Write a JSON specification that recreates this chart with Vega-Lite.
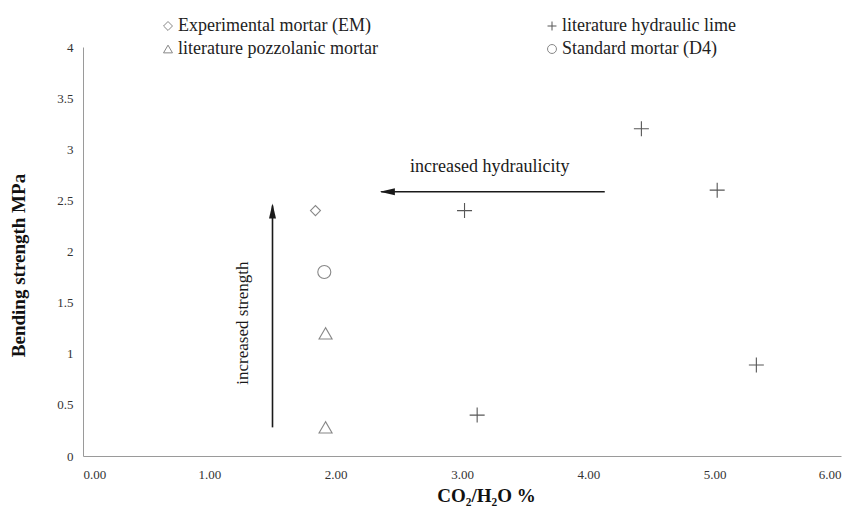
{
  "$schema": "https://vega.github.io/schema/vega-lite/v6.json",
  "width": 758,
  "height": 409,
  "autosize": {"type": "none"},
  "padding": {"left": 83, "top": 47, "right": 19, "bottom": 64},
  "background": "white",
  "config": {
    "view": {"stroke": null},
    "font": "Liberation Serif",
    "axis": {"grid": false, "ticks": false, "domainColor": "#9a9a9a", "domainWidth": 1, "labelFont": "Liberation Serif", "labelColor": "#333", "titleFont": "Liberation Serif", "titleFontWeight": "bold", "titleColor": "#111", "titleFontSize": 19, "labelFontSize": 13}
  },
  "layer": [
    {
      "data": {"values": [
        {"series": "Experimental mortar (EM)", "ratio": 1.84, "strength": 2.4},
        {"series": "Standard mortar (D4)", "ratio": 1.91, "strength": 1.8},
        {"series": "literature pozzolanic mortar", "ratio": 1.92, "strength": 1.2},
        {"series": "literature pozzolanic mortar", "ratio": 1.92, "strength": 0.28},
        {"series": "literature hydraulic lime", "ratio": 3.12, "strength": 0.4},
        {"series": "literature hydraulic lime", "ratio": 3.02, "strength": 2.4},
        {"series": "literature hydraulic lime", "ratio": 4.42, "strength": 3.2},
        {"series": "literature hydraulic lime", "ratio": 5.02, "strength": 2.6},
        {"series": "literature hydraulic lime", "ratio": 5.33, "strength": 0.89}
      ]},
      "mark": {"type": "point", "filled": false, "strokeWidth": 1.1, "clip": false},
      "encoding": {
        "x": {"field": "ratio", "type": "quantitative", "scale": {"domain": [0, 6]}, "axis": {"values": [0, 1, 2, 3, 4, 5, 6], "format": ".2f", "labelPadding": 12, "title": "CO₂/H₂O %", "titlePadding": 5, "titleX": 403}},
        "y": {"field": "strength", "type": "quantitative", "scale": {"domain": [0, 4]}, "axis": {"values": [0, 0.5, 1, 1.5, 2, 2.5, 3, 3.5, 4], "format": "~g", "labelPadding": 10, "title": "Bending strength MPa", "titlePadding": 28, "titleY": 218}},
        "shape": {"field": "series", "type": "nominal", "title": null,
          "scale": {"domain": ["Experimental mortar (EM)", "literature hydraulic lime", "literature pozzolanic mortar", "Standard mortar (D4)"], "range": ["diamond", "M-1,0H1M0,-1V1", "triangle-up", "circle"]},
          "legend": {"orient": "none", "direction": "horizontal", "legendX": 76, "legendY": -30, "columns": 2, "columnPadding": 165, "rowPadding": 5, "labelFont": "Liberation Serif", "labelFontSize": 18, "labelColor": "#222", "symbolSize": 80, "symbolStrokeWidth": 1, "labelOffset": 1, "padding": 0, "labelLimit": 400}},
        "stroke": {"field": "series", "type": "nominal", "title": null,
          "scale": {"domain": ["Experimental mortar (EM)", "literature hydraulic lime", "literature pozzolanic mortar", "Standard mortar (D4)"], "range": ["#555555", "#111111", "#555555", "#555555"]}},
        "size": {"condition": [
          {"test": "datum.series === 'Experimental mortar (EM)'", "value": 100},
          {"test": "datum.series === 'literature hydraulic lime'", "value": 225}
        ], "value": 170}
      }
    },
    {
      "data": {"values": [
        {"arrow": "increased hydraulicity", "x1": 4.13, "y1": 2.585, "x2": 2.36, "y2": 2.585},
        {"arrow": "increased strength", "x1": 1.5, "y1": 0.28, "x2": 1.5, "y2": 2.45}
      ]},
      "mark": {"type": "rule", "color": "#1a1a1a", "strokeWidth": 1.6},
      "encoding": {
        "x": {"field": "x1", "type": "quantitative"},
        "y": {"field": "y1", "type": "quantitative"},
        "x2": {"field": "x2"},
        "y2": {"field": "y2"}
      }
    },
    {
      "data": {"values": [
        {"arrow": "increased hydraulicity", "tipx": 2.35, "tipy": 2.585}
      ]},
      "mark": {"type": "point", "shape": "M0,0L1.5,0.35L1.5,-0.35Z", "filled": true, "color": "#1a1a1a", "size": 400, "opacity": 1},
      "encoding": {
        "x": {"field": "tipx", "type": "quantitative"},
        "y": {"field": "tipy", "type": "quantitative"}
      }
    },
    {
      "data": {"values": [
        {"arrow": "increased strength", "tipx": 1.5, "tipy": 2.47}
      ]},
      "mark": {"type": "point", "shape": "M0,0L0.35,1.5L-0.35,1.5Z", "filled": true, "color": "#1a1a1a", "size": 400, "opacity": 1},
      "encoding": {
        "x": {"field": "tipx", "type": "quantitative"},
        "y": {"field": "tipy", "type": "quantitative"}
      }
    },
    {
      "data": {"values": [
        {"label": "increased hydraulicity", "lx": 3.22, "ly": 2.83}
      ]},
      "mark": {"type": "text", "font": "Liberation Serif", "fontSize": 18, "color": "#1a1a1a", "align": "center", "baseline": "middle"},
      "encoding": {
        "x": {"field": "lx", "type": "quantitative"},
        "y": {"field": "ly", "type": "quantitative"},
        "text": {"field": "label"}
      }
    },
    {
      "data": {"values": [
        {"label": "increased strength", "lx": 1.27, "ly": 1.3}
      ]},
      "mark": {"type": "text", "font": "Liberation Serif", "fontSize": 17, "color": "#1a1a1a", "align": "center", "baseline": "middle", "angle": 270},
      "encoding": {
        "x": {"field": "lx", "type": "quantitative"},
        "y": {"field": "ly", "type": "quantitative"},
        "text": {"field": "label"}
      }
    }
  ]
}
